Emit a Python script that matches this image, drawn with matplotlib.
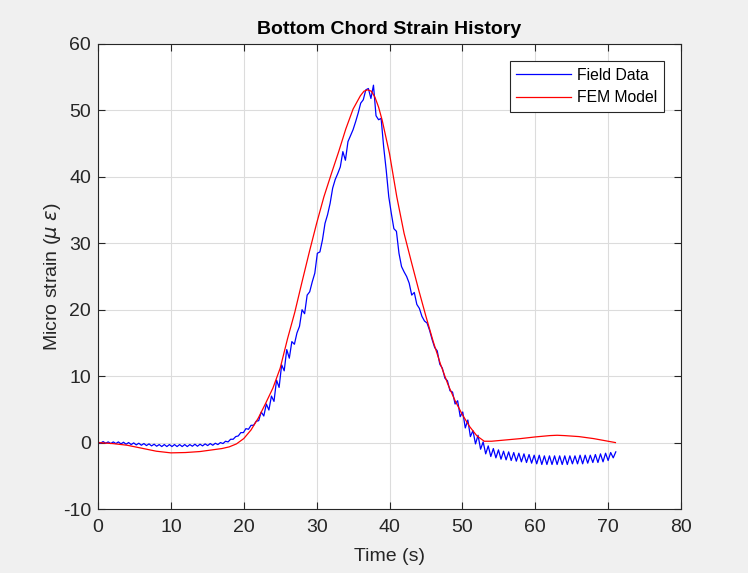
import numpy as np
import matplotlib
matplotlib.use("Agg")
import matplotlib.pyplot as plt

plt.rcParams['font.family'] = ['Liberation Sans', 'DejaVu Sans']
plt.rcParams['mathtext.fontset'] = 'dejavusans'
plt.rcParams['axes.unicode_minus'] = False

# Field data sampled every 0.35 s
field_dt = 0.35
field_y = [
    0.1, -0.1, 0.15, -0.1, 0.1, -0.15, 0.1, -0.15, 0.1, -0.2,
    0.05, -0.25, 0.0, -0.3, -0.05, -0.35, -0.1, -0.4, -0.15, -0.45,
    -0.2, -0.5, -0.25, -0.55, -0.3, -0.6, -0.3, -0.6, -0.3, -0.6,
    -0.3, -0.6, -0.3, -0.6, -0.3, -0.6, -0.3, -0.55, -0.25, -0.55,
    -0.25, -0.5, -0.2, -0.45, -0.15, -0.4, -0.1, -0.3, 0.0, -0.15,
    0.2, 0.1, 0.5, 0.5, 0.9, 1.0, 1.5, 1.5, 2.1, 2.0,
    2.6, 2.6, 3.2, 3.3, 4.6, 4.0, 5.8, 4.9, 7.0, 6.2,
    9.4, 8.3, 11.7, 10.8, 14.0, 12.7, 15.2, 14.8, 16.5, 17.5,
    20.0, 19.4, 22.2, 22.7, 24.2, 25.5, 28.5, 28.7, 30.5, 33.0,
    34.3, 36.0, 38.3, 39.6, 40.5, 41.5, 43.8, 42.5, 45.3, 46.2,
    47.1, 48.3, 49.6, 51.1, 51.6, 53.1, 53.3, 51.8, 53.8, 49.2,
    48.6, 48.8, 44.5, 41.0, 37.0, 34.5, 32.2, 31.8, 28.5, 26.5,
    25.7, 25.0, 24.0, 22.2, 22.6, 20.8, 20.2, 19.0, 18.3, 18.0,
    16.9, 15.5, 14.3, 13.8, 11.8, 11.2, 9.7, 9.3, 7.8, 7.6,
    5.8, 6.3, 3.9, 4.6, 2.2, 3.4, 0.9, 1.8, -0.2, 1.1,
    -1.0, 0.1, -1.7, -0.5, -2.1, -0.9, -2.3, -1.1, -2.5, -1.3,
    -2.6, -1.4, -2.7, -1.5, -2.8, -1.6, -2.9, -1.7, -3.0, -1.8,
    -3.1, -1.9, -3.2, -1.9, -3.3, -2.0, -3.3, -2.0, -3.3, -2.0,
    -3.3, -2.0, -3.3, -2.0, -3.3, -2.0, -3.2, -2.0, -3.2, -1.9,
    -3.2, -1.9, -3.1, -1.9, -3.0, -1.8, -3.0, -1.7, -2.9, -1.6,
    -2.7, -1.5, -2.3, -1.4,
]
field_t = np.arange(len(field_y)) * field_dt

fem_t = [0, 2, 4, 6, 8, 10, 12, 14, 16, 17, 18, 19, 20, 21, 22, 23, 24, 25,
         26, 27, 28, 29, 30, 31, 32, 33, 34, 35, 36, 36.5, 37, 37.5, 38, 38.5,
         39, 40, 41, 42, 43, 44, 45, 46, 47, 48, 49, 50, 51, 52, 53, 54, 56,
         58, 60, 62, 63, 64, 66, 68, 70, 71]
fem_y = [0.0, -0.15, -0.4, -0.85, -1.3, -1.55, -1.5, -1.35, -1.05, -0.9, -0.65,
         -0.2, 0.6, 1.9, 3.7, 5.9, 8.2, 11.2, 15.6, 19.6, 24.2, 28.7, 33.0,
         37.0, 40.4, 43.7, 47.2, 50.2, 52.2, 52.9, 53.1, 52.9, 52.0, 50.5,
         48.5, 43.5, 37.0, 31.5, 27.2, 23.0, 19.0, 15.2, 11.8, 8.8, 6.3, 4.2,
         2.4, 1.0, 0.2, 0.2, 0.4, 0.6, 0.85, 1.05, 1.1, 1.05, 0.9, 0.6, 0.2,
         0.0]

x_ticks = [0, 10, 20, 30, 40, 50, 60, 70, 80]
y_ticks = [-10, 0, 10, 20, 30, 40, 50, 60]

fig = plt.figure(figsize=(7.48, 5.73), dpi=100, facecolor='#f0f0f0')
ax = fig.add_axes([98/748, 1-509/573, (681-98)/748, (509-44)/573])
ax.set_facecolor('white')

ax.plot(field_t, field_y, color='#0000ff', lw=0.9, label='Field Data')
ax.plot(fem_t, fem_y, color='#ff0000', lw=0.9, label='FEM Model')

ax.set_xlim(0, 80)
ax.set_ylim(-10, 60)
ax.set_xticks(x_ticks)
ax.set_yticks(y_ticks)
ax.grid(True, color='#dcdcdc', lw=0.8)
ax.set_axisbelow(True)
for s in ax.spines.values():
    s.set_color('#262626')
    s.set_linewidth(0.8)
ax.tick_params(direction='in', top=True, right=True, length=5,
               colors='#262626', labelsize=14, width=0.8)
ax.tick_params(axis='x', pad=7)
ax.tick_params(axis='y', pad=5)

ax.set_title('Bottom Chord Strain History', fontsize=14, fontweight='bold',
             color='black', pad=7)
ax.set_xlabel('Time (s)', fontsize=14, color='#262626', labelpad=9)
ax.set_ylabel(r'Micro strain ($\mu$ $\epsilon$)', fontsize=14, color='#262626',
              labelpad=0)

leg = ax.legend(loc='upper right', fontsize=11.3, frameon=True, fancybox=False,
                edgecolor='#262626', framealpha=1, borderaxespad=1.1,
                handlelength=3.5, handletextpad=0.4, borderpad=0.4,
                labelspacing=0.5)
leg.get_frame().set_linewidth(0.8)

fig.savefig('out.png', dpi=100, facecolor=fig.get_facecolor())
